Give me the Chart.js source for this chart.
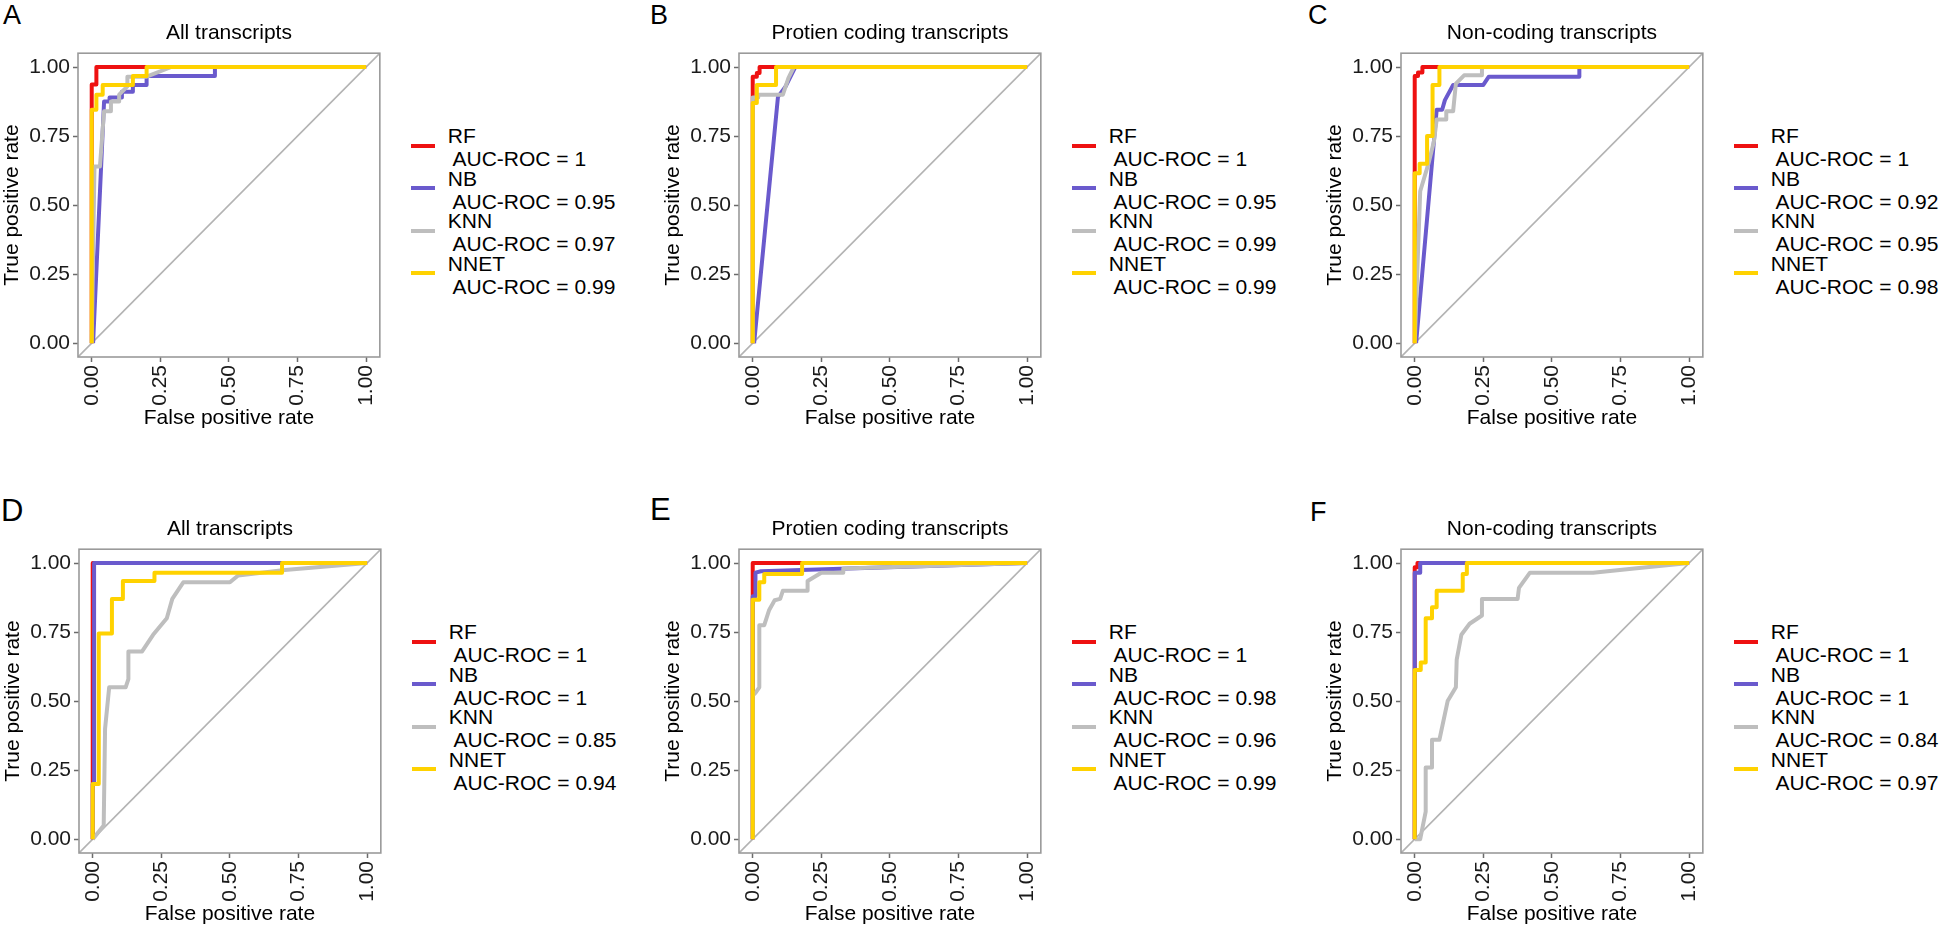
<!DOCTYPE html>
<html>
<head>
<meta charset="utf-8">
<title>ROC curves</title>
<script src="https://cdn.jsdelivr.net/npm/chart.js@4.4.1/dist/chart.umd.min.js"></script>
<style>
  body { margin: 0; background: #fff; font-family: 'Liberation Sans', Arial, sans-serif; }
  #page { position: relative; width: 1946px; height: 930px; overflow: hidden; background: #fff; }
  #page canvas { position: absolute; }
  .letter { position: absolute; line-height: 1; color: #000; }
  .legend { position: absolute; font-size: 21px; color: #000; }
  .entry { position: relative; height: 42.5px; width: 230px; }
  .key { position: absolute; left: 0; top: 19.25px; width: 24px; height: 4px; }
  .txt { position: absolute; left: 37px; top: -0.25px; line-height: 23px; white-space: pre; }
</style>
</head>
<body>
<div id="page"></div>
<script>
const models = ['RF', 'NB', 'KNN', 'NNET'];
const letters = ['A', 'B', 'C', 'D', 'E', 'F'];
const titles = ['All transcripts', 'Protien coding transcripts', 'Non-coding transcripts',
                'All transcripts', 'Protien coding transcripts', 'Non-coding transcripts'];
const tickVals = [0, 0.25, 0.5, 0.75, 1];
const diagonal = [[-0.05, -0.05], [1.05, 1.05]];

// AUC values shown in each legend (RF, NB, KNN, NNET)
const aucA = ['1', '0.95', '0.97', '0.99'];
const aucB = ['1', '0.95', '0.99', '0.99'];
const aucC = ['1', '0.92', '0.95', '0.98'];
const aucD = ['1', '1', '0.85', '0.94'];
const aucE = ['1', '0.98', '0.96', '0.99'];
const aucF = ['1', '1', '0.84', '0.97'];

// curves as [false positive rate, true positive rate]
const rfA = [[0,0],[0,0.937],[0.017,0.937],[0.017,1],[1,1]];
const nbA = [[0.005,0],[0.045,0.875],[0.065,0.875],[0.065,0.89],[0.11,0.89],[0.11,0.91],[0.15,0.91],[0.15,0.935],[0.2,0.935],[0.2,0.967],[0.449,0.967],[0.449,1],[1,1]];
const knnA = [[0,0],[0.01,0.64],[0.03,0.64],[0.045,0.84],[0.07,0.84],[0.07,0.875],[0.1,0.875],[0.1,0.9],[0.13,0.93],[0.13,0.965],[0.2,0.965],[0.29,1],[1,1]];
const nnetA = [[0,0],[0,0.845],[0.017,0.845],[0.017,0.9],[0.04,0.9],[0.04,0.935],[0.15,0.935],[0.15,0.967],[0.2,0.967],[0.2,1],[1,1]];

const rfB = [[0,0],[0,0.965],[0.015,0.965],[0.015,0.978],[0.025,0.978],[0.025,1],[1,1]];
const nbB = [[0.005,0],[0.092,0.892],[0.12,0.93],[0.155,1],[1,1]];
const knnB = [[0,0],[0,0.89],[0.02,0.89],[0.02,0.9],[0.11,0.9],[0.13,0.96],[0.15,1],[1,1]];
const nnetB = [[0,0],[0,0.87],[0.015,0.87],[0.015,0.935],[0.085,0.935],[0.085,1],[1,1]];

const rfC = [[0,0],[0,0.967],[0.012,0.967],[0.012,0.98],[0.028,0.98],[0.028,1],[1,1]];
const nbC = [[0.005,0],[0.08,0.845],[0.1,0.845],[0.11,0.88],[0.14,0.935],[0.25,0.935],[0.27,0.965],[0.6,0.965],[0.6,1],[1,1]];
const knnC = [[0,0],[0.02,0.55],[0.05,0.65],[0.07,0.73],[0.08,0.81],[0.115,0.81],[0.115,0.84],[0.14,0.84],[0.15,0.94],[0.18,0.97],[0.245,0.97],[0.245,1],[1,1]];
const nnetC = [[0,0],[0,0.615],[0.018,0.615],[0.018,0.65],[0.045,0.65],[0.045,0.75],[0.065,0.75],[0.065,0.935],[0.09,0.935],[0.09,1],[1,1]];

const rfD = [[0,0],[0,1],[1,1]];
const nbD = [[0,0],[0,0.2],[0.005,0.2],[0.005,1],[1,1]];
const knnD = [[0,0],[0.04,0.05],[0.045,0.4],[0.06,0.55],[0.12,0.55],[0.13,0.58],[0.13,0.68],[0.18,0.68],[0.22,0.74],[0.27,0.8],[0.29,0.87],[0.33,0.93],[0.5,0.93],[0.53,0.955],[0.7,0.975],[1,1]];
const nnetD = [[0,0],[0,0.2],[0.022,0.2],[0.022,0.745],[0.07,0.745],[0.07,0.87],[0.11,0.87],[0.11,0.935],[0.225,0.935],[0.225,0.965],[0.69,0.965],[0.69,1],[1,1]];

const rfE = [[0,0],[0,1],[1,1]];
const nbE = [[0,0],[0,0.88],[0.01,0.88],[0.01,0.965],[0.03,0.97],[0.35,0.98],[1,1]];
const knnE = [[0,0],[0,0.52],[0.01,0.53],[0.024,0.55],[0.024,0.775],[0.042,0.775],[0.06,0.83],[0.08,0.865],[0.1,0.87],[0.11,0.9],[0.2,0.9],[0.2,0.935],[0.25,0.965],[0.33,0.965],[0.33,0.98],[1,1]];
const nnetE = [[0,0],[0,0.867],[0.024,0.867],[0.024,0.93],[0.042,0.93],[0.042,0.96],[0.18,0.96],[0.18,1],[1,1]];

const rfF = [[0,0],[0,0.985],[0.01,0.985],[0.01,1],[1,1]];
const nbF = [[0,0],[0,0.965],[0.02,0.965],[0.02,1],[1,1]];
const knnF = [[0,0],[0.02,0],[0.04,0.1],[0.04,0.26],[0.063,0.26],[0.063,0.36],[0.09,0.36],[0.12,0.5],[0.15,0.55],[0.153,0.65],[0.17,0.74],[0.2,0.78],[0.245,0.81],[0.245,0.87],[0.375,0.87],[0.38,0.91],[0.42,0.965],[0.65,0.965],[0.8,0.98],[1,1]];
const nnetF = [[0,0],[0,0.613],[0.022,0.613],[0.022,0.64],[0.04,0.64],[0.04,0.8],[0.063,0.8],[0.063,0.84],[0.08,0.84],[0.08,0.9],[0.175,0.9],[0.175,0.96],[0.19,0.96],[0.19,1],[1,1]];

const colors = ['#EE1111', '#6A5ACD', '#BEBEBE', '#FFD200'];
const font = "'Liberation Sans', Arial, sans-serif";
const page = document.getElementById('page');

Chart.defaults.font.family = font;
Chart.defaults.color = '#1a1a1a';

const panels = [
  { curves: [rfA, nbA, knnA, nnetA], auc: aucA, left: 0,    top: 0,   letterX: 3,    letterY: 2,   letterSize: 27 },
  { curves: [rfB, nbB, knnB, nnetB], auc: aucB, left: 661,  top: 0,   letterX: 650,  letterY: 2,   letterSize: 27 },
  { curves: [rfC, nbC, knnC, nnetC], auc: aucC, left: 1323, top: 0,   letterX: 1308, letterY: 2,   letterSize: 27 },
  { curves: [rfD, nbD, knnD, nnetD], auc: aucD, left: 1,    top: 496, letterX: 1,    letterY: 495, letterSize: 31 },
  { curves: [rfE, nbE, knnE, nnetE], auc: aucE, left: 661,  top: 496, letterX: 650,  letterY: 494, letterSize: 31 },
  { curves: [rfF, nbF, knnF, nnetF], auc: aucF, left: 1323, top: 496, letterX: 1310, letterY: 499, letterSize: 27 }
];

// grey frame round the panel, like ggplot's panel border
const panelBox = {
  id: 'panelBox',
  afterDraw(chart) {
    const { ctx, chartArea: { left, top, right, bottom } } = chart;
    ctx.save();
    ctx.strokeStyle = '#9a9a9a';
    ctx.lineWidth = 1.6;
    ctx.strokeRect(left, top, right - left, bottom - top);
    ctx.restore();
  }
};

function axis(titleText, horizontal) {
  return {
    type: 'linear',
    min: -0.05,
    max: 1.05,
    afterBuildTicks: s => { s.ticks = tickVals.map(v => ({ value: v })); },
    afterFit: s => { if (horizontal) s.height = 84; else s.width = 78; },
    ticks: {
      autoSkip: false,
      minRotation: horizontal ? 90 : 0,
      maxRotation: horizontal ? 90 : 0,
      padding: 3,
      color: '#1a1a1a',
      font: { size: 21 },
      callback: v => Number(v).toFixed(2)
    },
    grid: { display: true, drawOnChartArea: false, drawTicks: true, tickLength: 5, tickWidth: 1.5, tickColor: '#6b6b6b' },
    border: { display: false },
    title: {
      display: true,
      text: titleText,
      color: '#000',
      font: { size: 21 },
      padding: horizontal ? { top: 0, bottom: 10 } : { top: 0, bottom: 0 }
    }
  };
}

function buildLegend(chart, p) {
  const box = document.createElement('div');
  box.className = 'legend';
  box.style.left = (p.left + chart.chartArea.right + 31) + 'px';
  box.style.top = (p.top + chart.chartArea.top + 92.5 - 21.25) + 'px';
  chart.data.datasets.filter(d => models.includes(d.label)).forEach((d, i) => {
    const entry = document.createElement('div');
    entry.className = 'entry';
    const key = document.createElement('span');
    key.className = 'key';
    key.style.background = d.borderColor;
    const txt = document.createElement('span');
    txt.className = 'txt';
    txt.textContent = d.label + '\n AUC-ROC = ' + p.auc[i];
    entry.appendChild(key);
    entry.appendChild(txt);
    box.appendChild(entry);
  });
  page.appendChild(box);
}

panels.forEach((p, n) => {
  const letter = document.createElement('div');
  letter.className = 'letter';
  letter.textContent = letters[n];
  letter.style.left = p.letterX + 'px';
  letter.style.top = p.letterY + 'px';
  letter.style.fontSize = p.letterSize + 'px';
  page.appendChild(letter);

  const canvas = document.createElement('canvas');
  canvas.width = 395;
  canvas.height = 441;
  canvas.style.left = p.left + 'px';
  canvas.style.top = p.top + 'px';
  page.appendChild(canvas);

  const datasets = p.curves.map((c, i) => ({
    label: models[i],
    data: c.map(([x, y]) => ({ x, y })),
    borderColor: colors[i],
    borderWidth: 4,
    borderJoinStyle: 'round',
    showLine: true,
    pointRadius: 0,
    fill: false,
    order: 4 - i
  }));
  datasets.push({
    label: 'diagonal',
    data: diagonal.map(([x, y]) => ({ x, y })),
    borderColor: '#b3b3b3',
    borderWidth: 1.6,
    showLine: true,
    pointRadius: 0,
    fill: false,
    order: 5
  });

  const chart = new Chart(canvas.getContext('2d'), {
    type: 'scatter',
    data: { datasets: datasets },
    options: {
      responsive: false,
      animation: false,
      devicePixelRatio: 1,
      layout: { padding: { left: 0, right: 13, top: 0, bottom: 0 } },
      scales: {
        x: axis('False positive rate', true),
        y: axis('True positive rate', false)
      },
      plugins: {
        legend: { display: false },
        tooltip: { enabled: false },
        title: {
          display: true,
          text: titles[n],
          fullSize: false,
          color: '#000',
          font: { size: 21, weight: 'normal' },
          padding: { top: 20.6, bottom: 7.4 }
        }
      }
    },
    plugins: [panelBox]
  });

  buildLegend(chart, p);
});
</script>
</body>
</html>
